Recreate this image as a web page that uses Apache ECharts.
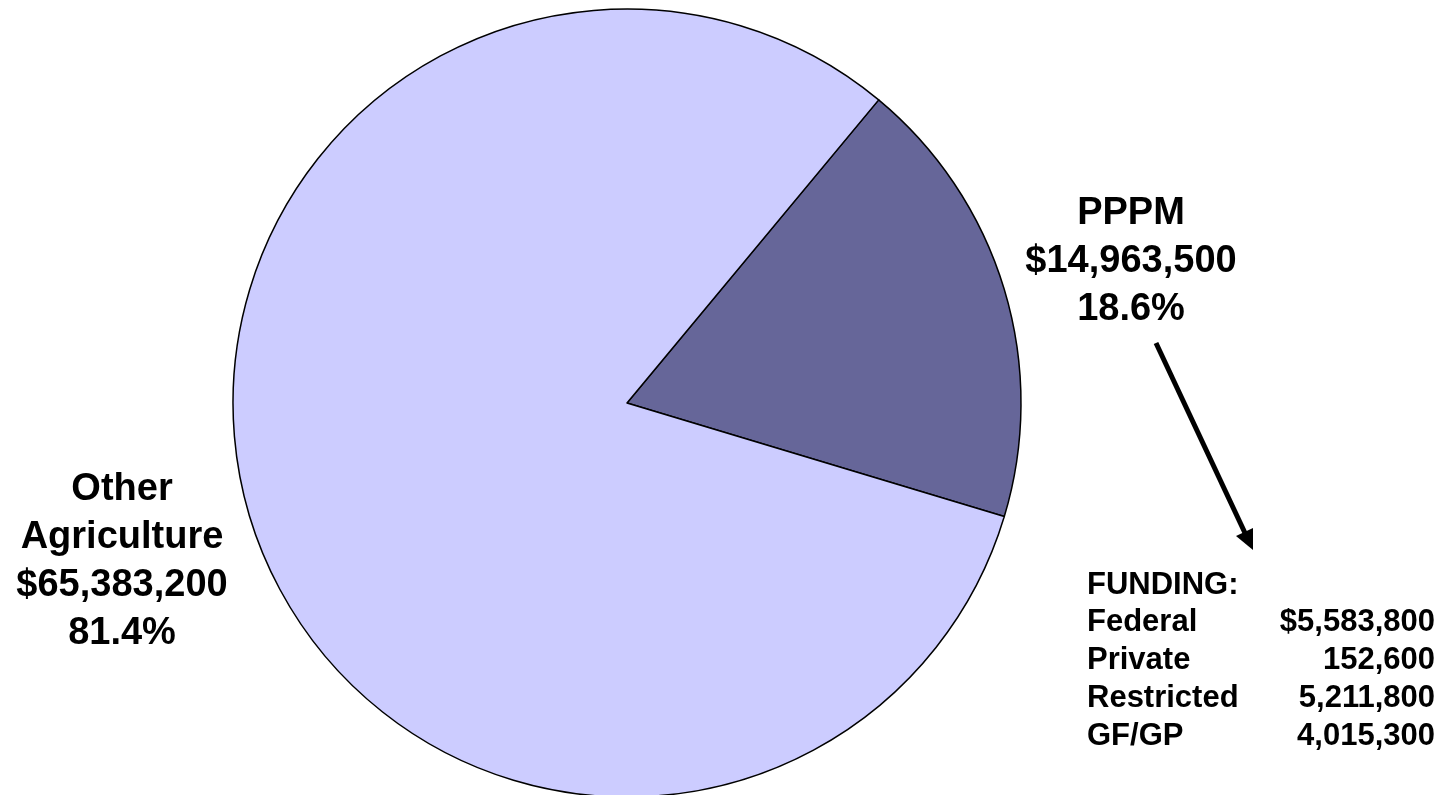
<!DOCTYPE html>
<html>
<head>
<meta charset="utf-8">
<script src="https://cdn.jsdelivr.net/npm/echarts@6/dist/echarts.min.js"></script>
<style>
    html, body { margin: 0; padding: 0; background: #fff; }
    #main { width: 1449px; height: 795px; }
</style>
</head>
<body>
<div id="main"></div>
<script>
const CATEGORIES = ['PPPM', 'Other Agriculture']
const VALUES = [14963500, 65383200]
const COLORS = ['#666699', '#CCCCFF']

const FUNDING_SOURCES = ['Federal', 'Private', 'Restricted', 'GF/GP']
const FUNDING_AMOUNTS = [5583800, 152600, 5211800, 4015300]

const FONT = '"Liberation Sans", Arial, sans-serif'

// where each slice label sits (center of the text block)
const LABEL_POS = [
    { x: 1131, y: 262 },
    { x: 122, y: 562 }
]

function fmt(n) {
    return n.toLocaleString('en-US')
}

let total = VALUES.reduce((a, b) => a + b, 0)

let pieData = []
for (let i = 0; i < CATEGORIES.length; i++) {
    pieData.push({
        name: CATEGORIES[i],
        value: VALUES[i],
        itemStyle: { color: COLORS[i] }
    })
}

// funding table on the lower right
let tableGraphics = [{
    type: 'text',
    x: 1087,
    y: 585,
    style: { text: 'FUNDING:', font: 'bold 31px ' + FONT, fill: '#000', textVerticalAlign: 'middle' }
}]
for (let i = 0; i < FUNDING_SOURCES.length; i++) {
    let y = 622 + i * 38
    tableGraphics.push({
        type: 'text',
        x: 1087,
        y: y,
        style: { text: FUNDING_SOURCES[i], font: 'bold 31px ' + FONT, fill: '#000', textVerticalAlign: 'middle' }
    })
    tableGraphics.push({
        type: 'text',
        x: 1435,
        y: y,
        style: {
            text: (i === 0 ? '$' : '') + fmt(FUNDING_AMOUNTS[i]),
            font: 'bold 31px ' + FONT, fill: '#000',
            textAlign: 'right', textVerticalAlign: 'middle'
        }
    })
}

// arrow from the PPPM label down to the table
let arrow = [
    {
        type: 'line',
        shape: { x1: 1156, y1: 343, x2: 1245, y2: 533 },
        style: { stroke: '#000', lineWidth: 5 }
    },
    {
        type: 'polygon',
        shape: { points: [[1253, 550], [1236, 536], [1253, 528]] },
        style: { fill: '#000' }
    }
]

let option = {
    animation: false,
    backgroundColor: '#fff',
    series: [
        {
            type: 'pie',
            center: [627, 403],
            radius: 394,
            startAngle: 50.3,
            clockwise: true,
            data: pieData,
            itemStyle: { borderColor: '#000', borderWidth: 1.5 },
            emphasis: { disabled: true },
            labelLine: { show: false },
            label: {
                show: true,
                position: 'outside',
                color: '#000',
                fontFamily: FONT,
                fontWeight: 'bold',
                fontSize: 38,
                lineHeight: 48,
                align: 'center',
                overflow: 'none',
                formatter: function (p) {
                    let pct = (p.value / total * 100).toFixed(1)
                    return p.name.replace(' ', '\n') + '\n$' + fmt(p.value) + '\n' + pct + '%'
                }
            },
            labelLayout: function (params) {
                let pos = LABEL_POS[params.dataIndex]
                return { x: pos.x, y: pos.y, align: 'center', verticalAlign: 'middle' }
            }
        }
    ],
    graphic: tableGraphics.concat(arrow)
}

let chart = echarts.init(document.getElementById('main'))
chart.setOption(option)
</script>
</body>
</html>
